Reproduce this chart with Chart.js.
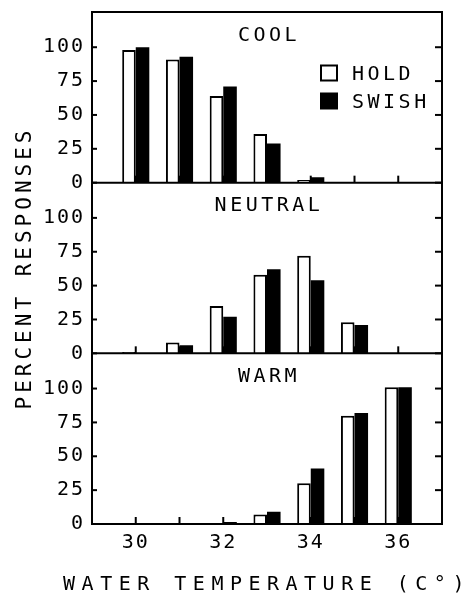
<!DOCTYPE html>
<html>
<head>
<meta charset="utf-8">
<script src="https://cdn.jsdelivr.net/npm/chart.js@4.4.0/dist/chart.umd.min.js"></script>
<style>
  html, body { margin: 0; padding: 0; background: #fff; }
  canvas { display: block; }
</style>
</head>
<body>
<canvas id="chart" width="473" height="595"></canvas>
<script>
// water temperature (C) for each pair of bars
var temps = [30, 31, 32, 33, 34, 35, 36];
var tickLabels = [30, 32, 34, 36];
var percentTicks = [0, 25, 50, 75, 100];
var panelNames = ['COOL', 'NEUTRAL', 'WARM'];
var seriesNames = ['HOLD', 'SWISH'];

// percent responses
var coolHold = [98, 91, 64, 36, 2, 0, 0];
var coolSwish = [100, 93, 71, 29, 4, 0, 0];
var neutralHold = [1, 8, 35, 58, 72, 23, 0];
var neutralSwish = [0, 6, 27, 62, 54, 21, 0];
var warmHold = [0, 0, 0, 7, 30, 80, 101];
var warmSwish = [0, 0, 1.5, 9, 41, 82, 101];

var FONT = 'DejaVu Sans Mono';
var panelIds = ['yCool', 'yNeutral', 'yWarm'];

function pts(vals) {
    return temps.map(function (t, i) { return { x: t, y: vals[i] }; });
}

function holdSet(vals, axis) {
    return { label: seriesNames[0], data: pts(vals), yAxisID: axis, stack: 'hold',
        backgroundColor: '#fff', borderColor: '#000', borderWidth: 2 };
}
function swishSet(vals, axis) {
    return { label: seriesNames[1], data: pts(vals), yAxisID: axis, stack: 'swish',
        backgroundColor: '#000', borderColor: '#000', borderWidth: 0 };
}

function panelAxis(withTitle) {
    return {
        type: 'linear', position: 'left', stack: 'panels', stackWeight: 1, stacked: false,
        min: 0, max: 126,
        afterBuildTicks: function (s) { s.ticks = percentTicks.map(function (v) { return { value: v }; }); },
        afterFit: function (s) { s.width = 92; s.paddingTop = 0; s.paddingBottom = 0; },
        grid: { display: false, drawTicks: false },
        border: { display: false },
        ticks: { font: { family: FONT, size: 20 }, color: '#000', padding: 7, autoSkip: false },
        title: { display: withTitle, text: 'PERCENT RESPONSES', color: '#000',
            font: { family: FONT, size: 21 }, padding: { top: 13, bottom: 0 } }
    };
}

// wider letter spacing for an axis title; extra lets a title run past the plot edges
function spaced(scale, px, extra) {
    if (!scale || scale._spaced) return;
    var orig = scale.drawTitle;
    scale.drawTitle = function () {
        var prev = this.ctx.letterSpacing;
        var l = this.left, r = this.right;
        this.ctx.letterSpacing = px;
        if (extra) { this.left = l - extra; this.right = r + extra; }
        orig.call(this);
        this.left = l; this.right = r;
        this.ctx.letterSpacing = prev;
    };
    scale._spaced = true;
}

function line(ctx, x1, y1, x2, y2) {
    ctx.beginPath();
    ctx.moveTo(x1, y1);
    ctx.lineTo(x2, y2);
    ctx.stroke();
}

var framePlugin = {
    id: 'frame',
    beforeDraw: function (chart) {
        chart.ctx.letterSpacing = '2px';
        spaced(chart.scales.x, '6.5px', 60);
        spaced(chart.scales.yNeutral, '4px', 0);
    },
    afterDatasetsDraw: function (chart) {
        var ctx = chart.ctx, area = chart.chartArea, xs = chart.scales.x;
        ctx.save();
        ctx.strokeStyle = '#000';
        ctx.lineWidth = 2;
        ctx.strokeRect(area.left, area.top, area.right - area.left, area.bottom - area.top);
        ctx.fillStyle = '#000';
        ctx.font = '20px ' + FONT;
        ctx.letterSpacing = '3.5px';
        ctx.textAlign = 'center';
        ctx.textBaseline = 'middle';
        panelIds.forEach(function (id, p) {
            var ys = chart.scales[id];
            var y0 = ys.getPixelForValue(0);
            line(ctx, area.left, y0, area.right, y0);
            percentTicks.forEach(function (v) {
                var y = ys.getPixelForValue(v);
                line(ctx, area.left, y, area.left + 5, y);
                line(ctx, area.right - 7, y, area.right, y);
            });
            temps.forEach(function (t) {
                var x = xs.getPixelForValue(t);
                line(ctx, x, y0, x, y0 - 7);
            });
            ctx.fillText(panelNames[p], (area.left + area.right) / 2 + 2, ys.top + 23.5);
        });

        // legend, top panel
        var top = chart.scales.yCool.top;
        var ds = chart.data.datasets;
        ctx.textAlign = 'left';
        [0, 1].forEach(function (k) {
            var cy = top + 61 + k * 28;
            var bx = area.left + 229;
            ctx.fillStyle = ds[k].backgroundColor;
            ctx.fillRect(bx, cy - 7.5, 16, 15);
            ctx.strokeStyle = '#000';
            ctx.strokeRect(bx, cy - 7.5, 16, 15);
            ctx.fillStyle = '#000';
            ctx.fillText(ds[k].label, bx + 31, cy + 1.5);
        });
        ctx.restore();
    }
};

new Chart(document.getElementById('chart'), {
    type: 'bar',
    data: {
        datasets: [
            holdSet(coolHold, 'yCool'), swishSet(coolSwish, 'yCool'),
            holdSet(neutralHold, 'yNeutral'), swishSet(neutralSwish, 'yNeutral'),
            holdSet(warmHold, 'yWarm'), swishSet(warmSwish, 'yWarm')
        ]
    },
    options: {
        responsive: false,
        animation: false,
        categoryPercentage: 0.62,
        barPercentage: 1.0,
        layout: { padding: { top: 12, right: 31, left: 0, bottom: 0 } },
        plugins: { legend: { display: false }, tooltip: { enabled: false } },
        scales: {
            x: {
                type: 'linear', min: 29, max: 37, offset: false,
                afterBuildTicks: function (s) { s.ticks = tickLabels.map(function (v) { return { value: v }; }); },
                afterFit: function (s) { s.height = 71; s.paddingLeft = 0; s.paddingRight = 0; },
                grid: { display: false, drawTicks: false },
                border: { display: false },
                ticks: { font: { family: FONT, size: 20 }, color: '#000', padding: 7, maxRotation: 0, autoSkip: false },
                title: { display: true, text: 'WATER TEMPERATURE (C°)', color: '#000',
                    font: { family: FONT, size: 20, lineHeight: 1 }, padding: { top: 0, bottom: 0 } }
            },
            // listed bottom-up: the last left axis in a stack sits on top
            yWarm: panelAxis(false),
            yNeutral: panelAxis(true),
            yCool: panelAxis(false)
        }
    },
    plugins: [framePlugin]
});
</script>
</body>
</html>
